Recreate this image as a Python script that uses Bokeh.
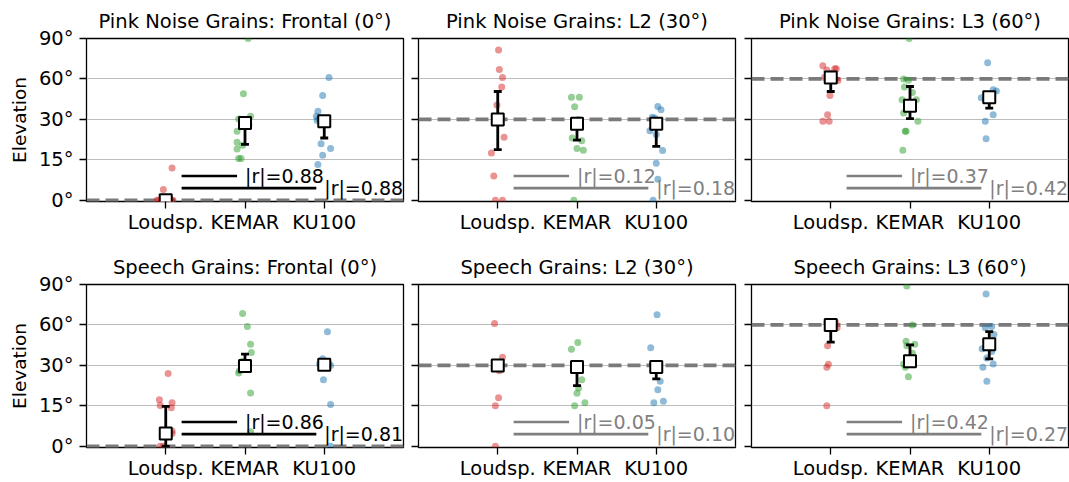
import numpy as np
from bokeh.plotting import figure
from bokeh.layouts import gridplot
from bokeh.models import FixedTicker, Span, Label
from bokeh.embed import file_html
from bokeh.resources import INLINE

# ---------------- data ----------------
categories = ["Loudsp.", "KEMAR", "KU100"]
colors = ["#d62728", "#2ca02c", "#1f77b4"]
ytick_deg = [0, 15, 30, 60, 90]
ytick_labels = ["0°", "15°", "30°", "60°", "90°"]

titles = ["Pink Noise Grains: Frontal (0°)", "Pink Noise Grains: L2 (30°)",
          "Pink Noise Grains: L3 (60°)", "Speech Grains: Frontal (0°)",
          "Speech Grains: L2 (30°)", "Speech Grains: L3 (60°)"]
targets = [0, 30, 60, 0, 30, 60]
r_values = [[0.88, 0.88], [0.12, 0.18], [0.37, 0.42],
            [0.86, 0.81], [0.05, 0.10], [0.42, 0.27]]
r_significant = [True, False, False, True, False, False]

# individual responses (degrees elevation) per category, and their horizontal jitter
pn_front_elev = [[12, 4, 0, 0, 0, 0, 0, 0, 0, 0, 0, 0],
                 [90, 49, 32.4, 30.3, 28, 25.6, 21.5, 20.4, 19, 15.5, 15.5],
                 [61, 47.8, 36, 32.4, 29.6, 30.5, 30, 21, 19.2, 16.7, 13.3]]
pn_front_jit = [[0.08, -0.03, -0.11, 0.03, -0.06, 0.07, -0.02, 0.09, -0.09, 0.05, -0.04, 0.01],
                [0.04, -0.02, 0.07, -0.08, 0.05, -0.10, -0.10, -0.03, -0.10, -0.08, -0.05],
                [0.06, -0.02, -0.08, -0.10, -0.09, -0.07, 0.02, -0.04, 0.08, -0.02, -0.08]]

pn_l2_elev = [[81.5, 67, 61, 54, 40.6, 31, 23.4, 17.5, 9, 0, 0],
              [46.5, 46.5, 39.4, 30, 23.1, 22.1, 19.2, 18.6, 0],
              [39.6, 37.2, 31.5, 31, 25.8, 24.4, 18.5, 13.7, 7.8, 0]]
pn_l2_jit = [[0.01, 0.02, 0.06, 0.05, -0.01, 0.0, 0.08, -0.08, -0.05, -0.03, 0.06],
             [-0.07, 0.03, -0.03, 0.02, -0.06, 0.06, 0.0, 0.08, -0.04],
             [0.02, 0.06, -0.05, -0.02, -0.08, 0.0, 0.08, 0.0, 0.02, -0.04]]

pn_l3_elev = [[69.7, 66.7, 67.5, 67.5, 64, 61, 60, 58.8, 47.8, 33.5, 29.3, 29.3],
              [90, 60, 59, 54, 50, 44.6, 44.6, 34.7, 29.3, 25.6, 25.6, 18.6],
              [72, 52, 51, 46, 45, 45, 33.5, 29.3, 22.8]]
pn_l3_jit = [[-0.10, -0.05, 0.05, 0.07, 0.01, -0.08, 0.06, 0.09, -0.01, -0.04, -0.10, -0.02],
             [-0.01, -0.08, -0.02, -0.07, 0.03, -0.10, 0.08, -0.08, 0.10, -0.05, -0.06, -0.09],
             [-0.02, 0.05, 0.09, -0.10, -0.05, 0.03, 0.05, -0.05, -0.04]]

sp_front_elev = [[27, 17.3, 16.1, 15.1, 14.3, 5.7, 4.7, 0, 0],
                 [68.4, 58.8, 45.7, 39.6, 33, 31.2, 28, 27.2, 19.8, 5.4],
                 [55, 34.9, 31, 31, 30, 24.7, 15.5, 0]]
sp_front_jit = [[0.03, -0.08, 0.08, -0.07, 0.07, 0.08, 0.08, -0.03, -0.07],
                [-0.03, 0.03, 0.07, 0.08, -0.03, -0.05, -0.07, -0.08, 0.07, 0.07],
                [0.04, -0.02, -0.06, 0.06, 0.08, -0.01, 0.08, 0.08]]

sp_l2_elev = [[61, 36, 31, 28, 18, 15, 0],
              [47, 42, 24.7, 21.6, 19.7, 16.1, 15],
              [67.5, 43, 24.1, 21, 16.7, 16.1]]
sp_l2_jit = [[-0.04, 0.06, -0.03, 0.02, 0.01, -0.03, -0.03],
             [0.01, -0.07, 0.06, 0.02, 0.0, 0.10, -0.03],
             [0.01, -0.07, 0.05, 0.02, 0.09, -0.03]]

sp_l3_elev = [[62, 61.7, 59.3, 58, 44.5, 30.9, 29.3, 15],
              [88.8, 60, 48, 45.7, 44.5, 39, 31, 29.3, 25.8],
              [82.9, 58.8, 57.9, 53, 42.3, 40.3, 35.4, 31, 29.3, 24.1]]
sp_l3_jit = [[0.06, -0.05, 0.03, 0.08, -0.04, -0.03, -0.05, -0.05],
             [-0.04, 0.03, -0.05, 0.06, -0.04, 0.03, -0.08, -0.06, -0.02],
             [-0.04, 0.03, -0.05, 0.06, -0.09, 0.03, -0.03, 0.05, -0.08, -0.03]]

# central estimate and interval per panel (Loudsp., KEMAR, KU100)
means = [[0, 28.7, 29.3], [30, 28.4, 28.4], [61, 40.2, 46.5],
         [4.7, 29.8, 30.5], [30, 29.4, 29.4], [60, 33, 45.7]]
ci_low = [[0, 20.7, 23.1], [18.8, 22.3, 20], [50.7, 30.6, 38.4],
          [0, 28, 29], [29, 22.5, 25], [47.2, 30, 34.9]]
ci_high = [[0, 31, 31], [50.7, 30, 30], [63, 54.4, 48],
           [14.8, 38.4, 32], [31, 30, 30], [61, 45.2, 55]]

panel_elev = [pn_front_elev, pn_l2_elev, pn_l3_elev, sp_front_elev, sp_l2_elev, sp_l3_elev]
panel_jit = [pn_front_jit, pn_l2_jit, pn_l3_jit, sp_front_jit, sp_l2_jit, sp_l3_jit]


# elevation axis: 0-30 deg and 30-90 deg compressed (ticks equally spaced)
def to_axis(d):
    d = np.asarray(d, dtype=float)
    return np.where(d <= 30, d / 15.0, 2 + (d - 30) / 30.0)


FONT = "DejaVu Sans"
FS = "19.5px"
ytick_pos = [int(v) for v in to_axis(ytick_deg)]

borders_lr = [(86, 7), (8, 8), (8, 1)]
borders_tb = [(38, 47), (34, 36)]


def make_panel(i):
    row, col = divmod(i, 3)
    p = figure(frame_width=317, frame_height=163, x_range=(-1, 3), y_range=(-0.03, 4),
               output_backend="svg", toolbar_location=None,
               min_border_left=borders_lr[col][0], min_border_right=borders_lr[col][1],
               min_border_top=borders_tb[row][0], min_border_bottom=borders_tb[row][1],
               background_fill_color="white", border_fill_color="white")
    p.title.text = titles[i]
    p.title.align = "center"
    p.title.text_font = FONT
    p.title.text_font_size = "19.5px"
    p.title.text_font_style = "normal"
    p.title.text_color = "black"
    p.title.standoff = 11

    p.outline_line_color = "black"
    p.outline_line_width = 1.3
    p.outline_line_alpha = 1

    p.xgrid.visible = False
    p.ygrid.ticker = FixedTicker(ticks=ytick_pos)
    p.ygrid.grid_line_color = "#bcbcbc"
    p.ygrid.grid_line_width = 1

    p.xaxis.ticker = FixedTicker(ticks=[0, 1, 2])
    p.xaxis.major_label_overrides = {k: c for k, c in enumerate(categories)}
    p.yaxis.ticker = FixedTicker(ticks=ytick_pos)
    p.yaxis.major_label_overrides = {k: t for k, t in zip(ytick_pos, ytick_labels)}
    for ax in p.axis:
        ax.axis_line_color = None
        ax.major_tick_in = 0
        ax.major_tick_out = 7
        ax.major_tick_line_color = "black"
        ax.major_tick_line_width = 1.3
        ax.minor_tick_line_color = None
        ax.major_label_text_font = FONT
        ax.major_label_text_font_size = FS
        ax.major_label_text_color = "black"
        ax.major_label_standoff = 6
    p.xaxis.major_label_standoff = 2
    if col == 0:
        p.yaxis.axis_label = "Elevation"
        p.yaxis.axis_label_text_font = FONT
        p.yaxis.axis_label_text_font_size = "18.5px"
        p.yaxis.axis_label_text_font_style = "normal"
        p.yaxis.axis_label_text_color = "black"
        p.yaxis.axis_label_standoff = 6
    else:
        p.yaxis.major_label_overrides = {k: "" for k in ytick_pos}
        p.yaxis.major_label_text_font_size = "0px"
        p.yaxis.major_label_standoff = 0

    # target elevation
    p.add_layout(Span(location=float(to_axis(targets[i])), dimension="width",
                      line_color="#7a7a7a", line_width=3.7, line_dash="13 6",
                      level="underlay"))

    # individual responses
    for c in range(3):
        xs = c + np.asarray(panel_jit[i][c])
        ys = to_axis(panel_elev[i][c])
        p.scatter(xs, ys, size=7, fill_color=colors[c], fill_alpha=0.5, line_color=None)

    # interval bars
    cx = np.arange(3, dtype=float)
    lo = to_axis(ci_low[i])
    hi = to_axis(ci_high[i])
    cap = 0.05
    p.segment(x0=cx, y0=lo, x1=cx, y1=hi, line_color="black", line_width=2.8)
    p.segment(x0=cx - cap, y0=lo, x1=cx + cap, y1=lo, line_color="black", line_width=2.8)
    p.segment(x0=cx - cap, y0=hi, x1=cx + cap, y1=hi, line_color="black", line_width=2.8)

    # means
    p.scatter(cx, to_axis(means[i]), marker="square", size=12, fill_color="white",
              line_color="black", line_width=2)

    # correlation annotations
    rcol = "black" if r_significant[i] else "#808080"
    for k, j in enumerate([1, 2]):
        yl = 0.6 - 0.3 * k
        p.segment(x0=[0.2], y0=[yl], x1=[j - 0.1], y1=[yl], line_color=rcol, line_width=2.7)
        p.add_layout(Label(x=j, y=yl, text=f"|r|={r_values[i][k]:.2f}",
                           text_align="left", text_baseline="middle",
                           text_font=FONT, text_font_size="19px", text_color=rcol))
    return p


panels = [make_panel(i) for i in range(6)]
grid = gridplot([panels[:3], panels[3:]], toolbar_location=None)

open("out.html", "w").write(file_html(grid, INLINE))
